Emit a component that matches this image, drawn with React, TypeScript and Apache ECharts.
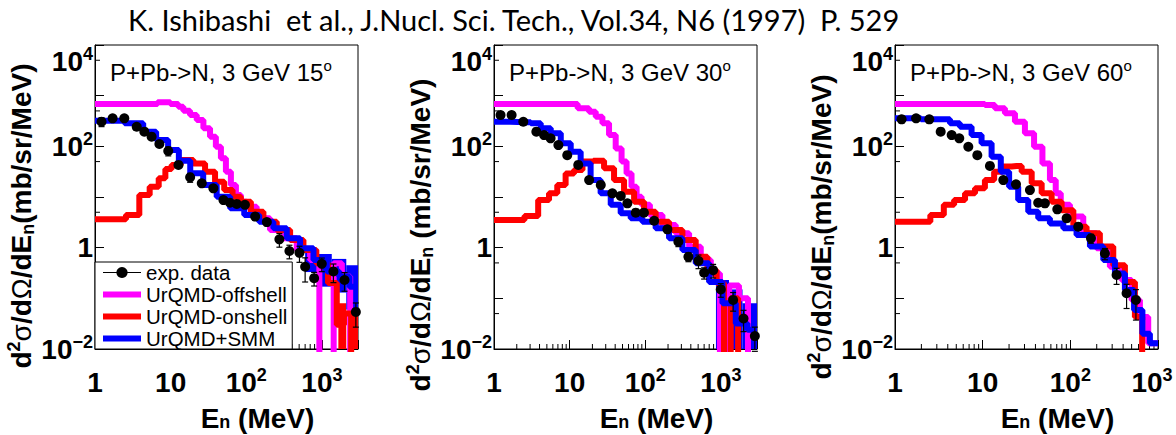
import { useEffect, useRef } from 'react';
import * as echarts from 'echarts';

const FONT = 'Liberation Sans';
const TITLE = 'K. Ishibashi  et al., J.Nucl. Sci. Tech., Vol.34, N6 (1997)  P. 529';
const PANEL_LABELS = ['P+Pb->N, 3 GeV 15', 'P+Pb->N, 3 GeV 30', 'P+Pb->N, 3 GeV 60'];
const Y_NAMES = [
  '{b|d}{sup|2}{g|σ}{b|/d}{g|Ω}{b|/dE}{sub|n}{b|(mb/sr/MeV)}',
  '{b|d}{sup|2}{g|σ}{b|/d}{g|Ω}{b|/dE}{sub|n}{b| (mb/sr/MeV)}',
  '{b|d}{sup|2}{g|σ}{b|/d}{g|Ω}{b|/dE}{sub|n}{b|(mb/sr/MeV)}',
];
const X_NAME = '{b|E}{sub|n}{b| (MeV)}';
const SERIES_NAMES = ['exp. data', 'UrQMD-offshell', 'UrQMD-onshell', 'UrQMD+SMM'];
const COLORS = ['#000000', '#ff00ff', '#ff0000', '#0000ff'];
const X_MAX = [3000, 3000, 1000];
const Y_MIN = 0.01;
const Y_MAX = 10000;

const X_MINOR_TICKS_A = [2, 3, 4, 5, 6, 7, 8, 9, 20, 30, 40, 50, 60, 70, 80, 90, 200, 300, 400, 500, 600, 700, 800, 900, 2000];
const X_MINOR_TICKS_B = [2, 3, 4, 5, 6, 7, 8, 9, 20, 30, 40, 50, 60, 70, 80, 90, 200, 300, 400, 500, 600, 700, 800, 900];
const Y_MINOR_TICKS = [0.05, 0.5, 5, 50, 500, 5000];

// ---------- Panel 1 (15 deg) ----------
const exp1E = [1.22, 1.71, 2.44, 3.56, 4.49, 5.6, 7.1, 9.3, 12.7, 18.1, 25.8, 36.7, 49.9, 61, 74.8, 96, 131, 187, 274, 372, 505, 600, 789, 996, 1420, 1990, 2810];
const exp1V = [306, 357, 357, 244, 195, 155, 111, 81, 43, 24.4, 18.6, 14.8, 8.7, 7.7, 7.3, 7.0, 4.1, 3.2, 1.46, 0.86, 0.79, 0.42, 0.25, 0.48, 0.34, 0.23, 0.054];
const exp1Err = [0.2, 0.1, 0.1, 0.15, 0.1, 0.1, 0.1, 0.2, 0.1, 0.2, 0.1, 0.1, 0.1, 0.1, 0.1, 0.1, 0.15, 0.15, 0.3, 0.3, 0.35, 0.5, 0.3, 0.3, 0.4, 0.4, 0.5];

const off1E = [1, 5.5, 8.2, 12, 13.3, 16.3, 20, 24.5, 30, 36.7, 42.8, 49.9, 58, 67.6, 78.7, 91.6, 112, 168, 253, 379, 569, 856, 1000, 1300, 1574, 2137, 2612, 3000];
const off1V = [684, 684, 740, 684, 605, 505, 415, 331, 227, 155, 98, 58, 31.6, 17.3, 11, 8.1, 6.4, 3.8, 2.23, 1.53, 0.9, 0.57, 0.003, 0.003, 0.49, 0.27, 0.003, 0.003];
const on1E = [1, 2.0, 3.3, 4.5, 6.2, 7.8, 9.3, 11.4, 16.3, 24.5, 33.2, 45, 58, 74.8, 96, 138, 206, 310, 465, 698, 1020, 1420, 1741, 2200, 2700, 3000];
const on1V = [3.63, 3.63, 4.4, 11, 16, 23.4, 35.6, 43, 54, 46, 31.6, 20, 13.7, 10.1, 8.1, 5.1, 3.26, 2.23, 1.42, 0.9, 0.49, 0.2, 0.03, 0.05, 0.003, 0.003];
const smm1E = [1, 1.7, 3.55, 5.3, 7.8, 11, 15, 22, 33, 50, 75, 118, 186, 280, 420, 630, 950, 1420, 2030, 2650, 3000];
const smm1V = [320, 320, 284, 195, 133, 85, 52, 29.3, 17.3, 10.1, 6.0, 4.4, 3.26, 2.41, 1.53, 0.97, 0.57, 0.34, 0.27, 0.17, 0.17];
// tail bands [E low, E high, value low, value high]
const smm1Band = [[600, 900, 0.33, 0.95], [900, 1350, 0.17, 0.75], [1350, 2100, 0.13, 0.6], [2100, 3000, 0.06, 0.45]];
const on1Band = [[1650, 2100, 0.004, 0.08], [2550, 3000, 0.004, 0.07]];
const off1Band: number[][] = [];

// ---------- Panel 2 (30 deg) ----------
const exp2E = [1.22, 1.71, 2.44, 3.63, 4.59, 5.6, 7.1, 9.3, 13, 18.1, 25.8, 36.7, 47.4, 58, 74.8, 96, 131, 196, 274, 372, 505, 600, 789, 996, 1450, 1990, 2810];
const exp2V = [415, 415, 306, 195, 167, 144, 106, 67, 43, 21.6, 17.3, 11.8, 10.5, 7.5, 4.9, 4.9, 3.4, 2.3, 1.31, 0.66, 0.55, 0.32, 0.36, 0.15, 0.093, 0.04, 0.018];
const exp2Err = [0.15, 0.15, 0.1, 0.1, 0.1, 0.1, 0.1, 0.1, 0.1, 0.1, 0.1, 0.1, 0.15, 0.15, 0.15, 0.15, 0.15, 0.15, 0.2, 0.2, 0.3, 0.25, 0.3, 0.3, 0.4, 0.45, 0.5];

const off2E = [1, 10, 16.3, 20, 24.5, 30, 36.7, 45, 52.5, 61, 71, 83, 96, 138, 206, 310, 465, 631, 856, 1100, 1500, 2000, 2600, 3000];
const off2V = [684, 684, 562, 482, 385, 284, 167, 91, 50, 29, 16, 10.1, 7.0, 4.4, 2.8, 1.92, 1.04, 0.57, 0.31, 0.003, 0.18, 0.1, 0.003, 0.003];
const on2E = [1, 2.0, 3.2, 4.6, 6.2, 7.6, 10.3, 12.7, 17.2, 24.5, 33.2, 45, 61, 83, 112, 168, 253, 379, 569, 772, 996, 1210, 1500, 1900, 3000];
const on2V = [3.5, 3.5, 4.2, 8.7, 11.8, 17.3, 29, 34, 50, 52, 37, 21.6, 12.7, 8.1, 5.1, 3.26, 2.23, 1.42, 0.66, 0.36, 0.2, 0.003, 0.1, 0.003, 0.003];
const smm2E = [1, 2.63, 3.56, 4.83, 6.55, 8.9, 12, 16.3, 22, 30, 40.7, 55, 74.8, 112, 168, 253, 379, 569, 856, 1283, 1927, 2610, 3000];
const smm2V = [306, 300, 284, 227, 181, 115, 78, 46, 21.6, 11.8, 7.0, 4.8, 3.8, 3.26, 2.41, 1.53, 0.9, 0.49, 0.21, 0.08, 0.032, 0.024, 0.024];
const smm2Band = [[860, 1280, 0.004, 0.23], [1280, 1930, 0.004, 0.15], [1930, 3000, 0.004, 0.08]];
const on2Band: number[][] = [];
const off2Band: number[][] = [];

// ---------- Panel 3 (60 deg) ----------
const exp3E = [1.19, 1.74, 2.46, 3.32, 4.43, 5.41, 6.86, 8.69, 12.1, 17.2, 24, 34.6, 43, 51.3, 71, 90.7, 123, 172, 248, 337, 438, 560];
const exp3V = [341, 357, 341, 195, 167, 144, 98, 67, 41, 21.6, 17.8, 13.7, 7.7, 7.5, 5.7, 3.8, 2.6, 1.53, 0.77, 0.29, 0.126, 0.093];
const exp3Err = [0.15, 0.1, 0.15, 0.1, 0.1, 0.1, 0.1, 0.1, 0.1, 0.1, 0.1, 0.1, 0.15, 0.15, 0.15, 0.15, 0.15, 0.2, 0.25, 0.35, 0.5, 0.6];

const off3E = [1, 9.3, 12.1, 15.7, 20.5, 26.6, 34.6, 43, 53.7, 63.8, 72.8, 83, 118, 167, 237, 337, 438, 570, 678, 882, 1000];
const off3V = [684, 684, 653, 562, 448, 306, 181, 98, 46, 21.6, 11.8, 7.0, 4.1, 1.92, 0.97, 0.42, 0.23, 0.093, 0.043, 0.013, 0.013];
const on3E = [1, 2.0, 3.2, 4.06, 5.5, 7.2, 9.3, 12.1, 15.1, 18.8, 24.4, 31.8, 41.3, 53.7, 69.8, 90.7, 129, 182, 259, 368, 478, 622, 700, 1000];
const on3V = [3.26, 3.26, 4.4, 7.0, 8.7, 11.8, 14.8, 21.6, 31.6, 40, 41, 31.6, 18.6, 11.8, 8.1, 5.5, 2.6, 1.92, 1.05, 0.45, 0.21, 0.043, 0.003, 0.003];
const smm3E = [1, 3.9, 4.6, 6.57, 8.5, 11.1, 14.4, 18, 22.3, 29, 37.8, 49, 69.8, 99, 140, 200, 283, 368, 478, 595, 741, 882, 1000];
const smm3V = [357, 341, 284, 244, 167, 115, 62, 31.6, 16, 8.7, 5.1, 3.8, 3.0, 2.41, 1.78, 1.05, 0.57, 0.31, 0.146, 0.059, 0.02, 0.013, 0.013];
const smm3Band: number[][] = [];
const on3Band: number[][] = [];
const off3Band: number[][] = [];

const GRID_LEFT = [95, 494, 895];
const GRID_TOP = 45;
const GRID_W = 263;
const GRID_H = 304;
const NAME_PAD = [38, 76, 60];

const PANELS = [
  { exp: [exp1E, exp1V, exp1Err], off: [off1E, off1V], on: [on1E, on1V], smm: [smm1E, smm1V], bands: [off1Band, on1Band, smm1Band], minor: X_MINOR_TICKS_A },
  { exp: [exp2E, exp2V, exp2Err], off: [off2E, off2V], on: [on2E, on2V], smm: [smm2E, smm2V], bands: [off2Band, on2Band, smm2Band], minor: X_MINOR_TICKS_A },
  { exp: [exp3E, exp3V, exp3Err], off: [off3E, off3V], on: [on3E, on3V], smm: [smm3E, smm3V], bands: [off3Band, on3Band, smm3Band], minor: X_MINOR_TICKS_B },
];

const zip = (a: number[], b: number[]) => a.map((v, i) => [v, b[i]]);

const axisRich = {
  b: { fontFamily: FONT, fontSize: 28, fontWeight: 'bold', color: '#000', lineHeight: 32 },
  s: { fontFamily: FONT, fontSize: 18, fontWeight: 'bold', color: '#000', lineHeight: 18, verticalAlign: 'top' },
  se: { fontFamily: FONT, fontSize: 18, fontWeight: 'bold', color: '#000', lineHeight: 18, verticalAlign: 'top', padding: [0, 12, 0, 0] },
};
const nameRich = {
  b: { fontFamily: FONT, fontSize: 28, fontWeight: 'bold', color: '#000', lineHeight: 32 },
  g: { fontFamily: FONT, fontSize: 28, fontWeight: 'normal', color: '#000', lineHeight: 32 },
  sup: { fontFamily: FONT, fontSize: 18, fontWeight: 'bold', color: '#000', lineHeight: 18, verticalAlign: 'top' },
  sub: { fontFamily: FONT, fontSize: 18, fontWeight: 'bold', color: '#000', lineHeight: 18, verticalAlign: 'bottom' },
};
const xNameRich = {
  b: { fontFamily: FONT, fontSize: 28, fontWeight: 'bold', color: '#000', lineHeight: 25 },
  sub: { fontFamily: FONT, fontSize: 18, fontWeight: 'bold', color: '#000', lineHeight: 12, verticalAlign: 'bottom' },
};

function decade(v: number): number | null {
  const l = Math.log10(v);
  const e = Math.round(l);
  return Math.abs(l - e) < 0.01 ? e : null;
}
function makeXFmt(edgeDecade: number | null) {
  return (v: number) => {
    const e = decade(v);
    if (e === null) return '';
    if (e === 0) return '{b|1}';
    if (e === 1) return '{b|10}';
    return e === edgeDecade ? `{b|10}{se|${e}}` : `{b|10}{s|${e}}`;
  };
}
const yFmt = (v: number) => {
  const e = decade(v);
  if (e === null || e % 2 !== 0) return '';
  if (e === 0) return '{b|1}';
  return `{b|10}{s|${e < 0 ? '−' : ''}${Math.abs(e)}}`;
};

function bandRender(color: string) {
  return (params: any, api: any) => {
    const p1 = api.coord([api.value(0), api.value(3)]);
    const p2 = api.coord([api.value(1), api.value(2)]);
    const cs = params.coordSys;
    const shape = echarts.graphic.clipRectByRect(
      { x: p1[0], y: p1[1], width: p2[0] - p1[0], height: p2[1] - p1[1] },
      { x: cs.x, y: cs.y, width: cs.width, height: cs.height }
    );
    if (!shape) return null;
    return { type: 'rect', shape, style: { fill: color } };
  };
}

function errRender(params: any, api: any) {
  const top = api.coord([api.value(0), api.value(2)]);
  const bot = api.coord([api.value(0), api.value(1)]);
  const cs = params.coordSys;
  const y1 = Math.max(top[1], cs.y);
  const y2 = Math.min(bot[1], cs.y + cs.height);
  const style = { stroke: '#000', lineWidth: 1.2 };
  return {
    type: 'group',
    children: [
      { type: 'line', shape: { x1: top[0], y1, x2: top[0], y2 }, style },
      { type: 'line', shape: { x1: top[0] - 3, y1: top[1], x2: top[0] + 3, y2: top[1] }, style },
      { type: 'line', shape: { x1: top[0] - 3, y1: bot[1], x2: top[0] + 3, y2: bot[1] }, style },
    ],
  };
}

function xTickRender(params: any, api: any) {
  const p = api.coord([api.value(0), Y_MIN]);
  return { type: 'line', shape: { x1: p[0], y1: p[1], x2: p[0], y2: p[1] - 5 }, style: { stroke: '#000', lineWidth: 1 } };
}
function yTickRender(params: any, api: any) {
  const p = api.coord([1, api.value(1)]);
  return { type: 'line', shape: { x1: p[0], y1: p[1], x2: p[0] + 5, y2: p[1] }, style: { stroke: '#000', lineWidth: 1 } };
}

function buildOption() {
  const grid = GRID_LEFT.map((l) => ({
    left: l, top: GRID_TOP, width: GRID_W, height: GRID_H,
    show: true, borderColor: '#000', borderWidth: 1, backgroundColor: 'transparent',
    containLabel: false, outerBoundsMode: 'none',
  }));
  const xAxis = GRID_LEFT.map((_, i) => ({
    type: 'log', logBase: 10, gridIndex: i, min: 1, max: X_MAX[i],
    name: X_NAME, nameLocation: 'middle', nameGap: 57,
    nameTextStyle: { padding: [0, 0, 0, 62], rich: xNameRich },
    axisLine: { show: true, lineStyle: { color: '#000', width: 1 } },
    axisTick: { show: true, inside: true, length: 9, lineStyle: { color: '#000', width: 1 } },
    axisLabel: { interval: 0, margin: 17, formatter: makeXFmt(i === 2 ? 3 : null), rich: axisRich },
    splitLine: { show: false },
    minorTick: { show: false },
  }));
  const yAxis = GRID_LEFT.map((_, i) => ({
    type: 'log', logBase: 10, gridIndex: i, min: Y_MIN, max: Y_MAX,
    name: Y_NAMES[i], nameLocation: 'middle', nameRotate: 90, nameGap: 38,
    nameTextStyle: { padding: [0, NAME_PAD[i], 0, 0], rich: nameRich },
    axisLine: { show: true, lineStyle: { color: '#000', width: 1 } },
    axisTick: { show: true, inside: true, length: 9, lineStyle: { color: '#000', width: 1 } },
    axisLabel: { interval: 0, margin: 2, formatter: yFmt, rich: axisRich, verticalAlignMaxLabel: 'top' },
    splitLine: { show: false },
  }));

  const series: any[] = [];
  PANELS.forEach((p, i) => {
    series.push({
      type: 'custom', name: 'xticks' + i, xAxisIndex: i, yAxisIndex: i, silent: true, z: 1,
      data: p.minor.map((e) => [e, Y_MIN]), renderItem: xTickRender,
    });
    series.push({
      type: 'custom', name: 'yticks' + i, xAxisIndex: i, yAxisIndex: i, silent: true, z: 1,
      data: Y_MINOR_TICKS.map((v) => [1, v]), renderItem: yTickRender,
    });
    const models = [p.off, p.on, p.smm];
    models.forEach((m, k) => {
      series.push({
        type: 'line', name: SERIES_NAMES[k + 1], xAxisIndex: i, yAxisIndex: i,
        data: zip(m[0] as number[], m[1] as number[]), step: 'middle', symbol: 'none', clip: true,
        lineStyle: { color: COLORS[k + 1], width: 6 }, itemStyle: { color: COLORS[k + 1] }, z: 2,
      });
      const band = p.bands[k];
      if (band.length) {
        series.push({
          type: 'custom', name: SERIES_NAMES[k + 1] + ' band', xAxisIndex: i, yAxisIndex: i, silent: true, z: 2,
          encode: { x: [0, 1], y: [2, 3] }, data: band, renderItem: bandRender(COLORS[k + 1]),
        });
      }
    });
    const [E, V, R] = p.exp as number[][];
    series.push({
      type: 'custom', name: 'exp. data errors', xAxisIndex: i, yAxisIndex: i, silent: true, z: 3,
      encode: { x: 0, y: [1, 2] },
      data: E.map((e, j) => [e, V[j] * (1 - R[j]), V[j] * (1 + R[j])]),
      renderItem: errRender,
    });
    series.push({
      type: 'line', name: 'exp. data', xAxisIndex: i, yAxisIndex: i,
      data: zip(E, V), symbol: 'circle', symbolSize: 10, showSymbol: true, showAllSymbol: true,
      lineStyle: { opacity: 0, width: 1, color: '#000' }, itemStyle: { color: '#000' }, z: 4,
    });
  });

  const title: any[] = [
    {
      text: TITLE, left: 128, top: 4, padding: 0,
      textStyle: { fontFamily: 'Lato', fontSize: 29, fontWeight: 'normal', color: '#000', lineHeight: 30 },
    },
  ];
  PANEL_LABELS.forEach((t, i) => {
    title.push({
      text: `{a|${t}}{s|o}`, left: GRID_LEFT[i] + 15, top: 58, padding: 0,
      textStyle: {
        rich: {
          a: { fontFamily: FONT, fontSize: 24, fontWeight: 'normal', color: '#000', lineHeight: 28 },
          s: { fontFamily: FONT, fontSize: 15, fontWeight: 'normal', color: '#000', lineHeight: 15, verticalAlign: 'top' },
        },
      },
    });
  });

  const hidden = { color: 'rgba(0,0,0,0)', borderWidth: 0, opacity: 0 };

  return {
    animation: false,
    backgroundColor: '#fff',
    title,
    grid,
    xAxis,
    yAxis,
    legend: {
      orient: 'vertical', left: 95, top: 262, padding: [0, 5, 0, 5], itemGap: 1,
      itemWidth: 38, itemHeight: 14, selectedMode: false,
      backgroundColor: '#fff', borderColor: '#000', borderWidth: 1, borderRadius: 0,
      textStyle: { fontFamily: FONT, fontSize: 20.5, color: '#000', lineHeight: 21 },
      data: [
        { name: 'exp. data', lineStyle: { width: 1, color: '#000', opacity: 1 }, itemStyle: { color: '#000', opacity: 1 } },
        { name: 'UrQMD-offshell', lineStyle: { width: 6, color: COLORS[1], opacity: 1 }, itemStyle: hidden },
        { name: 'UrQMD-onshell', lineStyle: { width: 6, color: COLORS[2], opacity: 1 }, itemStyle: hidden },
        { name: 'UrQMD+SMM', lineStyle: { width: 6, color: COLORS[3], opacity: 1 }, itemStyle: hidden },
      ],
      z: 10,
    },
    series,
  };
}

export default function App() {
  const ref = useRef<HTMLDivElement>(null);
  useEffect(() => {
    if (!ref.current) return;
    const chart = echarts.init(ref.current, null, { renderer: 'svg' });
    chart.setOption(buildOption() as any);
    return () => chart.dispose();
  }, []);
  return (
    <div
      ref={ref}
      style={{ position: 'fixed', left: 0, top: 0, width: 1176, height: 435, background: '#fff' }}
    />
  );
}
